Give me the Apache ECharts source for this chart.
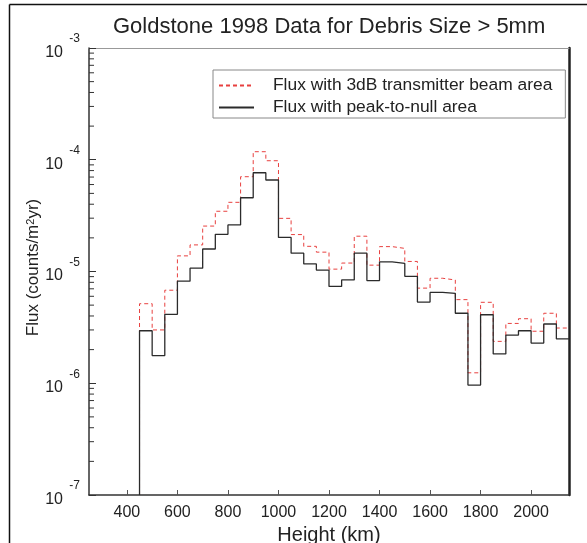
<!DOCTYPE html>
<html>
<head>
<meta charset="utf-8">
<script src="https://cdn.jsdelivr.net/npm/echarts@6/dist/echarts.min.js"></script>
<style>
html,body{margin:0;padding:0;background:#fff;}
#chart{width:587px;height:543px;}
</style>
</head>
<body>
<div id="chart"></div>
<script>
// Left edges of the 50 km height bins (km)
const binLeft = [450,500,550,600,650,700,750,800,850,900,950,1000,1050,1100,1150,1200,1250,1300,1350,1400,1450,1500,1550,1600,1650,1700,1750,1800,1850,1900,1950,2000,2050,2100];
const binRightEnd = 2150;
// Flux with 3dB transmitter beam area (counts/m^2/yr)
const flux3dB = [5.15e-6,3.0e-6,6.8e-6,1.38e-5,1.73e-5,2.55e-5,3.46e-5,4.16e-5,7.05e-5,1.18e-4,9.8e-5,2.99e-5,2.14e-5,1.68e-5,1.49e-5,1.05e-5,1.19e-5,2.07e-5,1.14e-5,1.67e-5,1.61e-5,1.23e-5,7.1e-6,8.7e-6,8.4e-6,5.6e-6,1.24e-6,5.3e-6,2.37e-6,3.43e-6,3.78e-6,2.92e-6,4.23e-6,3.12e-6];
// Flux with peak-to-null area
const fluxPeakNull = [2.95e-6,1.77e-6,4.14e-6,8.2e-6,1.07e-5,1.59e-5,2.15e-5,2.61e-5,4.57e-5,7.65e-5,6.59e-5,2.02e-5,1.46e-5,1.17e-5,1.03e-5,7.36e-6,8.4e-6,1.46e-5,8.3e-6,1.22e-5,1.18e-5,9.06e-6,5.33e-6,6.5e-6,6.38e-6,4.23e-6,9.64e-7,4.1e-6,1.83e-6,2.7e-6,2.95e-6,2.29e-6,3.39e-6,2.49e-6];
const xTicks = [400,600,800,1000,1200,1400,1600,1800,2000];
const xMin = 250, xMax = 2150;
const yMin = 1e-7, yMax = 1e-3;
const seriesNames = ['Flux with 3dB transmitter beam area','Flux with peak-to-null area'];

// minor tick values on the log axis (2..9 x 10^n)
const minorTicks = [];
for (let d = -7; d <= -4; d++) for (let m = 2; m <= 9; m++) minorTicks.push([xMin, m * Math.pow(10, d)]);

function stepData(vals) {
  const out = [[binLeft[0], yMin]];
  for (let i = 0; i < binLeft.length; i++) out.push([binLeft[i], vals[i]]);
  out.push([binRightEnd, vals[vals.length - 1]]);
  return out;
}

const FONT = '"Liberation Sans", Arial, Helvetica, sans-serif';
const chart = echarts.init(document.getElementById('chart'));
chart.setOption({
  animation: false,
  textStyle: {fontFamily: FONT},
  title: {
    text: 'Goldstone 1998 Data for Debris Size > 5mm',
    left: 108, top: 11,
    textStyle: {fontFamily: FONT, fontSize: 22, fontWeight: 'normal', color: '#222'}
  },
  legend: {
    left: 213, top: 70, orient: 'vertical',
    data: seriesNames,
    backgroundColor: '#fff',
    borderColor: '#888', borderWidth: 1, borderRadius: 0,
    padding: [7, 13, 2, 5],
    itemGap: 5, itemWidth: 35, itemHeight: 10,
    itemStyle: {opacity: 0},
    textStyle: {fontFamily: FONT, fontSize: 17.4, color: '#222', padding: [0, 0, 0, 14]}
  },
  grid: {left: 89, right: 18, top: 48, bottom: 48, containLabel: false, outerBoundsMode: 'none'},
  xAxis: [{
    type: 'value', min: xMin, max: xMax,
    name: 'Height (km)', nameLocation: 'middle', nameGap: 30,
    nameTextStyle: {fontFamily: FONT, fontSize: 20, color: '#222'},
    axisLine: {show: true, lineStyle: {color: '#333', width: 1.5}},
    axisTick: {show: true, inside: true, length: 5, customValues: xTicks, lineStyle: {color: '#555'}},
    axisLabel: {customValues: xTicks, formatter: function (v) { return String(v); }, fontFamily: FONT, fontSize: 16, color: '#222', margin: 10},
    splitLine: {show: false}
  }, {
    type: 'value', min: xMin, max: xMax, position: 'top',
    axisLine: {show: true, onZero: false, lineStyle: {color: '#999', width: 1}},
    axisTick: {show: false}, axisLabel: {show: false}, splitLine: {show: false}
  }],
  yAxis: [{
    type: 'log', logBase: 10, min: yMin, max: yMax,
    name: 'Flux (counts/m{sup|2}yr)', nameLocation: 'middle', nameGap: 47, nameRotate: 90,
    nameMoveOverlap: false,
    nameTextStyle: {
      fontFamily: FONT, fontSize: 17, color: '#222', padding: [0, 0, 0, 8],
      rich: {sup: {fontFamily: FONT, fontSize: 11, color: '#222', verticalAlign: 'top', lineHeight: 11, padding: [0, 0, 9, 0]}}
    },
    axisLine: {show: true, lineStyle: {color: '#333', width: 1.5}},
    axisTick: {show: true, inside: true, length: 7, lineStyle: {color: '#333'}},
    axisLabel: {
      margin: 9, padding: [0, 0, 3, 0], align: 'right',
      formatter: function (v) { return '{s|' + Math.round(Math.log10(v)) + '}\n{b|10}{g| }'; },
      rich: {
        b: {fontFamily: FONT, fontSize: 16, color: '#222', lineHeight: 15},
        g: {fontFamily: FONT, fontSize: 16, lineHeight: 15, width: 17},
        s: {fontFamily: FONT, fontSize: 12, color: '#222', lineHeight: 12}
      }
    },
    splitLine: {show: false}
  }, {
    type: 'log', logBase: 10, min: yMin, max: yMax, position: 'right',
    axisLine: {show: true, onZero: false, lineStyle: {color: '#222', width: 2.5}},
    axisTick: {show: false}, axisLabel: {show: false}, splitLine: {show: false}
  }],
  graphic: [
    {type: 'line', shape: {x1: 9.5, y1: 4.5, x2: 587, y2: 4.5}, style: {stroke: '#111', lineWidth: 1.5}},
    {type: 'line', shape: {x1: 9.5, y1: 4.5, x2: 9.5, y2: 543}, style: {stroke: '#111', lineWidth: 1.5}}
  ],
  series: [
    {
      name: seriesNames[0], type: 'line', step: 'end', symbol: 'none',
      data: stepData(flux3dB),
      lineStyle: {color: '#e8403f', width: 1, type: [4, 3]},
      itemStyle: {color: '#e8403f'}, z: 2
    },
    {
      name: seriesNames[1], type: 'line', step: 'end', symbol: 'none',
      data: stepData(fluxPeakNull),
      lineStyle: {color: '#2b2b2b', width: 1.3},
      itemStyle: {color: '#2b2b2b'}, z: 3
    },
    {
      type: 'custom', silent: true, data: minorTicks, z: 4,
      renderItem: function (params, api) {
        const p = api.coord([api.value(0), api.value(1)]);
        return {type: 'line', shape: {x1: p[0], y1: p[1], x2: p[0] + 5, y2: p[1]}, style: {stroke: '#333', lineWidth: 1}};
      }
    }
  ]
});
</script>
</body>
</html>
